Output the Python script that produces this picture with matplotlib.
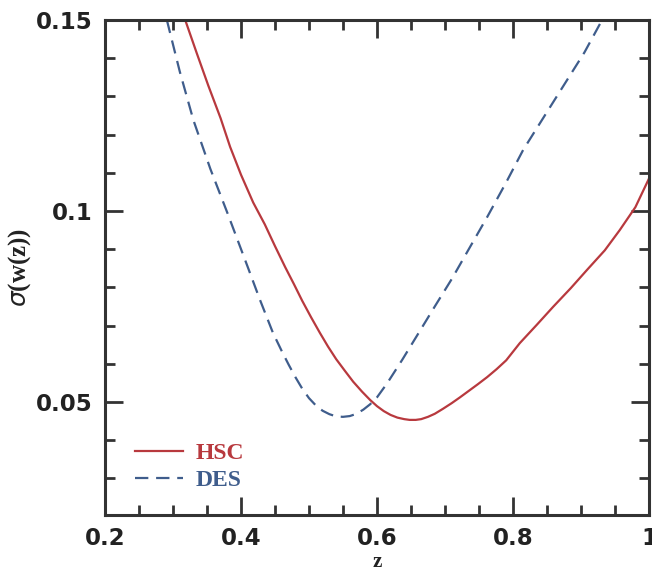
import matplotlib
matplotlib.use("Agg")
import matplotlib.pyplot as plt
from matplotlib.ticker import MultipleLocator, FixedLocator, FixedFormatter

hsc_z = [0.318, 0.335, 0.352, 0.37, 0.384, 0.40, 0.418, 0.435, 0.45, 0.465, 0.478,
         0.49, 0.503, 0.516, 0.528, 0.54, 0.553, 0.565, 0.578, 0.59, 0.60, 0.61,
         0.62, 0.63, 0.64, 0.648, 0.657, 0.665, 0.675, 0.685, 0.697, 0.71, 0.722,
         0.735, 0.748, 0.762, 0.776, 0.79, 0.81, 0.835, 0.859, 0.885, 0.909,
         0.935, 0.957, 0.98, 1.0]
hsc_sigma = [0.150, 0.1413, 0.1328, 0.1243, 0.1168, 0.1095, 0.1022, 0.0965, 0.0908,
             0.0853, 0.0808, 0.0765, 0.0722, 0.0681, 0.0645, 0.0612, 0.0581, 0.0553,
             0.0527, 0.0505, 0.0489, 0.0476, 0.0466, 0.0459, 0.0455, 0.0453, 0.0453,
             0.0455, 0.0461, 0.0469, 0.0482, 0.0497, 0.0512, 0.0529, 0.0546, 0.0565,
             0.0586, 0.0609, 0.0654, 0.0702, 0.0749, 0.0798, 0.0846, 0.0897, 0.0950,
             0.1010, 0.1085]

des_z = [0.291, 0.31, 0.33, 0.355, 0.38, 0.41, 0.428, 0.447, 0.46, 0.47, 0.48,
         0.49, 0.50, 0.51, 0.52, 0.53, 0.54, 0.55, 0.56, 0.57, 0.58, 0.59, 0.60,
         0.615, 0.637, 0.66, 0.685, 0.71, 0.735, 0.762, 0.79, 0.815, 0.845, 0.875,
         0.905, 0.931]
des_sigma = [0.150, 0.1365, 0.1238, 0.1110, 0.0995, 0.0853, 0.0767, 0.0681, 0.0633,
             0.0598, 0.0565, 0.0535, 0.0510, 0.0491, 0.0477, 0.0468, 0.0462, 0.0461,
             0.0463, 0.0469, 0.0480, 0.0494, 0.0512, 0.0549, 0.0610, 0.0677, 0.0750,
             0.0822, 0.0900, 0.0984, 0.1075, 0.1160, 0.1245, 0.1330, 0.1415, 0.150]

series_names = ["HSC", "DES"]

x_ticks = [0.2, 0.4, 0.6, 0.8, 1.0]
x_ticklabels = ["0.2", "0.4", "0.6", "0.8", "1"]
y_ticks = [0.05, 0.1, 0.15]
y_ticklabels = ["0.05", "0.1", "0.15"]

red = "#b8393e"
blue = "#3f5d8c"
axis_col = "#333333"

fig = plt.figure(figsize=(6.52, 5.70), dpi=100)
ax = fig.add_axes([0.161, 0.0965, 0.8344, 0.8684])

ax.plot(hsc_z, hsc_sigma, color=red, lw=1.6, label=series_names[0])
ax.plot(des_z, des_sigma, color=blue, lw=1.6, ls=(0, (6, 3.5)), label=series_names[1])

ax.set_xlim(0.2, 1.0)
ax.set_ylim(0.0204, 0.15)

ax.xaxis.set_major_locator(FixedLocator(x_ticks))
ax.xaxis.set_major_formatter(FixedFormatter(x_ticklabels))
ax.xaxis.set_minor_locator(MultipleLocator(0.05))
ax.yaxis.set_major_locator(FixedLocator(y_ticks))
ax.yaxis.set_major_formatter(FixedFormatter(y_ticklabels))
ax.yaxis.set_minor_locator(MultipleLocator(0.01))

ax.tick_params(which="both", direction="in", top=True, right=True,
               color=axis_col, width=2)
ax.tick_params(which="major", length=13, pad=9)
ax.tick_params(which="minor", length=7)
for lab in ax.get_xticklabels() + ax.get_yticklabels():
    lab.set_fontfamily("DejaVu Sans")
    lab.set_fontweight("bold")
    lab.set_fontsize(16.5)
    lab.set_color("#222222")
for sp in ax.spines.values():
    sp.set_linewidth(2.2)
    sp.set_color(axis_col)

ax.set_xlabel("z", family="Liberation Serif", fontweight="bold", fontsize=15,
              labelpad=1, color="#222222")
ax.set_ylabel(r"$\sigma$(w(z))", family="Liberation Serif", fontweight="bold",
              fontsize=18, labelpad=2, color="#222222")

leg = ax.legend(loc="lower left", bbox_to_anchor=(0.017, 0.005), frameon=False,
                handlelength=2.0, handletextpad=0.55, labelspacing=0.25,
                prop={"family": "Liberation Serif", "weight": "bold", "size": 17})
for txt, col in zip(leg.get_texts(), [red, blue]):
    txt.set_color(col)

fig.savefig("out.png", dpi=100)
